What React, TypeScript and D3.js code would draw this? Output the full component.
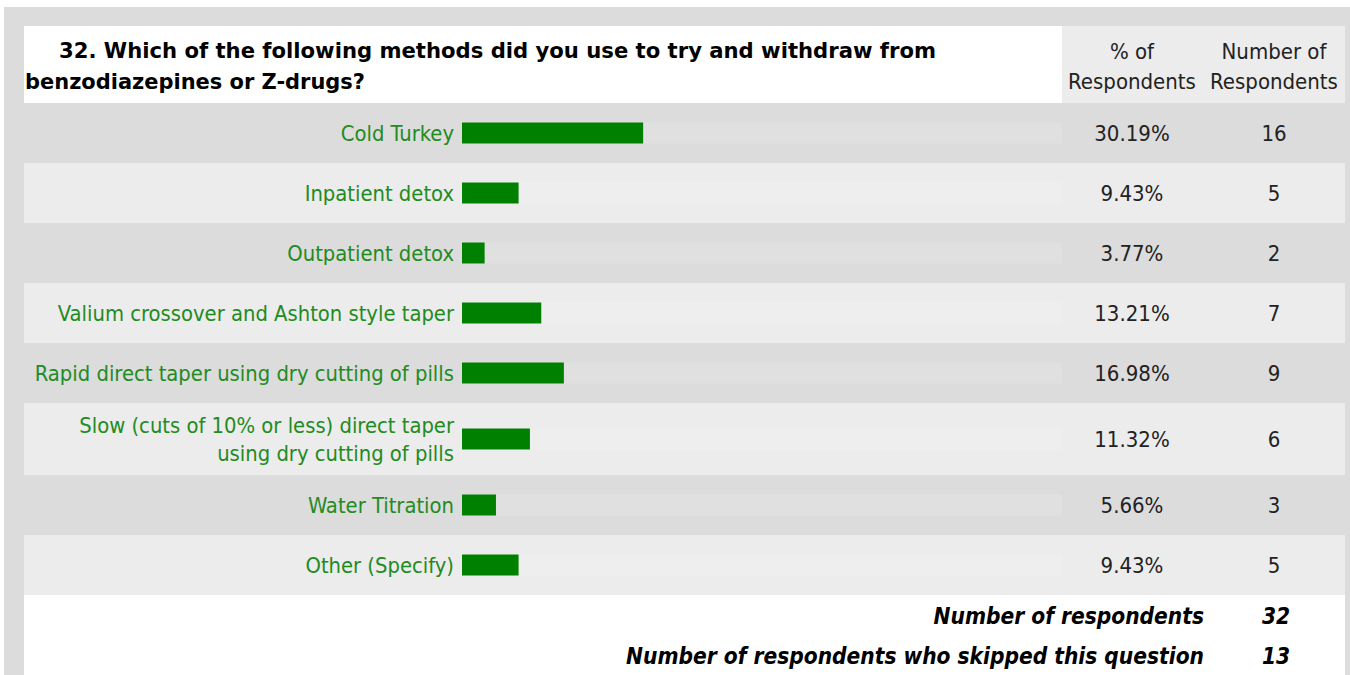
import React from "react";
import * as d3 from "d3";

const title1 = "32. Which of the following methods did you use to try and withdraw from";
const title2 = "benzodiazepines or Z-drugs?";
const colHeaders = [["% of", "Respondents"], ["Number of", "Respondents"]];

const categories = [
  "Cold Turkey",
  "Inpatient detox",
  "Outpatient detox",
  "Valium crossover and Ashton style taper",
  "Rapid direct taper using dry cutting of pills",
  "Slow (cuts of 10% or less) direct taper\nusing dry cutting of pills",
  "Water Titration",
  "Other (Specify)",
];
const percents = [30.19, 9.43, 3.77, 13.21, 16.98, 11.32, 5.66, 9.43];
const counts = [16, 5, 2, 7, 9, 6, 3, 5];

const footerLabels = ["Number of respondents", "Number of respondents who skipped this question"];
const footerValues = [32, 13];

const W = 1350;
const H = 675;
const FONT = "Tahoma, 'DejaVu Sans Condensed', 'DejaVu Sans', sans-serif";

export default function App() {
  const left = 24;
  const right = 1345;
  const headerTop = 26;
  const headerBottom = 103;
  const colSplit = 1062;
  const pctX = 1132;
  const numX = 1274;

  const x = d3.scaleLinear().domain([0, 100]).range([462, 1062]);

  const rows: { y0: number; h: number; lines: string[] }[] = [];
  let y = headerBottom;
  categories.forEach((c) => {
    const lines = c.split("\n");
    const h = lines.length > 1 ? 72 : 60;
    rows.push({ y0: y, h, lines });
    y += h;
  });
  const rowsEnd = y;
  const barH = 21;

  return (
    <div style={{ position: "absolute", left: 0, top: 0 }}>
      <svg width={W} height={H} style={{ display: "block" }}>
        <rect x={0} y={0} width={W} height={H} fill="#ffffff" />
        <rect x={4} y={7} width={W - 4} height={H - 7} fill="#dcdcdc" />
        <rect x={left} y={headerTop} width={colSplit - left} height={headerBottom - headerTop} fill="#ffffff" />
        <rect x={colSplit} y={headerTop} width={right - colSplit} height={headerBottom - headerTop} fill="#ececec" />
        <text x={59} y={58} fontFamily={FONT} fontWeight="bold" fontSize={22} fill="#000" textLength={877} lengthAdjust="spacingAndGlyphs">
          {title1}
        </text>
        <text x={25} y={89} fontFamily={FONT} fontWeight="bold" fontSize={22} fill="#000" textLength={340} lengthAdjust="spacingAndGlyphs">
          {title2}
        </text>
        {colHeaders.map((lines, i) => (
          <g key={i}>
            {lines.map((l, j) => (
              <text key={j} x={i === 0 ? pctX : numX} y={59 + j * 30} textAnchor="middle" fontFamily={FONT} fontSize={22} fill="#222">
                {l}
              </text>
            ))}
          </g>
        ))}
        {rows.map((r, i) => {
          const cy = r.y0 + r.h / 2;
          const bg = i % 2 === 0 ? "#dcdcdc" : "#ececec";
          return (
            <g key={i}>
              <rect x={left} y={r.y0} width={right - left} height={r.h} fill={bg} />
              <rect x={x(0)} y={cy - barH / 2} width={x(100) - x(0)} height={barH} fill="#ffffff" opacity={0.13} />
              <rect x={x(0)} y={cy - barH / 2} width={x(percents[i]) - x(0)} height={barH} fill="#008000" />
              {r.lines.map((l, j) => (
                <text
                  key={j}
                  x={454}
                  y={cy + 8 + (j - (r.lines.length - 1) / 2) * 28}
                  textAnchor="end"
                  fontFamily={FONT}
                  fontSize={21.8}
                  fill="#228b22"
                >
                  {l}
                </text>
              ))}
              <text x={pctX} y={cy + 8} textAnchor="middle" fontFamily={FONT} fontSize={22} fill="#222">
                {percents[i].toFixed(2) + "%"}
              </text>
              <text x={numX} y={cy + 8} textAnchor="middle" fontFamily={FONT} fontSize={22} fill="#222">
                {counts[i]}
              </text>
            </g>
          );
        })}
        <rect x={left} y={rowsEnd} width={right - left} height={H - rowsEnd} fill="#ffffff" />
        {footerLabels.map((l, i) => (
          <g key={i}>
            <text x={1204} y={624 + i * 40} textAnchor="end" fontFamily={FONT} fontWeight="bold" fontStyle="italic" fontSize={22.5} fill="#000">
              {l}
            </text>
            <text x={numX + 2} y={624 + i * 40} textAnchor="middle" fontFamily={FONT} fontWeight="bold" fontStyle="italic" fontSize={22.5} fill="#000">
              {footerValues[i]}
            </text>
          </g>
        ))}
      </svg>
    </div>
  );
}
